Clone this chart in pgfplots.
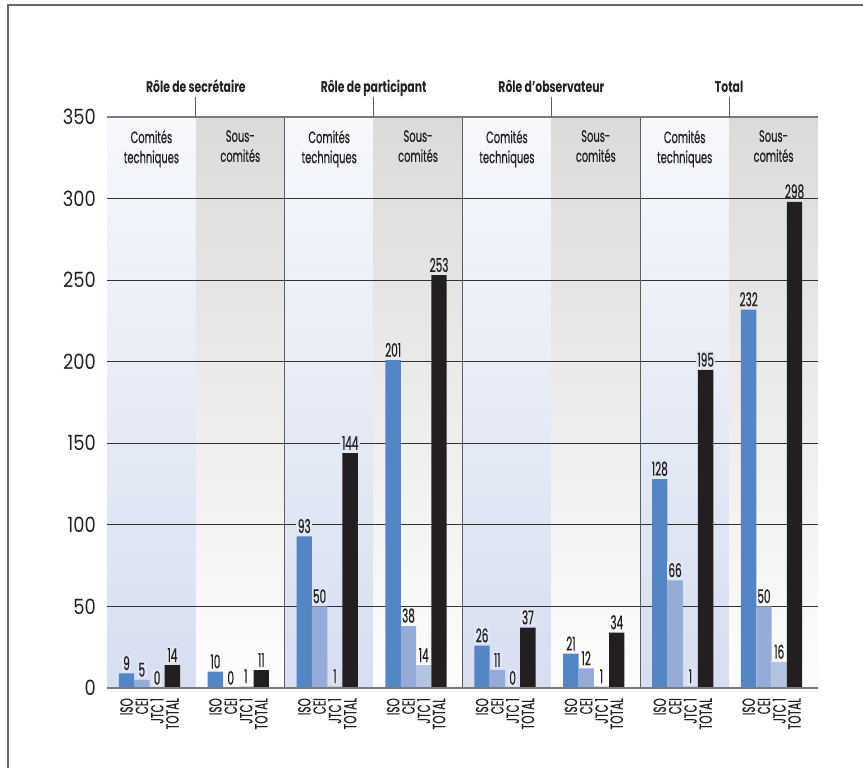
\documentclass[border=0pt]{standalone}
\usepackage{fontspec}
\setmainfont{Poppins}
\newfontfamily\cond{Poppins}[FakeStretch=0.6, FakeBold=0.4]
\newfontfamily\numf{Poppins}[FakeStretch=0.55, FakeBold=0.5]
\newfontfamily\head{Poppins}[FakeStretch=0.7]
\newfontfamily\tickf{Poppins}[FakeStretch=0.85]
\usepackage{pgfplots}
\usepackage{pgfplotstable}
\pgfplotsset{compat=1.18}
\definecolor{iso}{HTML}{5585C5}
\definecolor{cei}{HTML}{95ACD9}
\definecolor{jtc}{HTML}{B3C3E4}
\definecolor{tot}{HTML}{231F20}
\definecolor{txt}{HTML}{231F20}
\definecolor{ctbot}{HTML}{D6DFF0}
\definecolor{cttop}{HTML}{F6F8FC}
\definecolor{sctop}{HTML}{DADBDD}
\definecolor{scbot}{HTML}{FDFDFD}
\definecolor{ctlab}{HTML}{E0E6F4}
\definecolor{gridc}{HTML}{333333}
\definecolor{sepc}{HTML}{5E5E5E}
\definecolor{edgec}{HTML}{7A7A7A}
\definecolor{framec}{HTML}{666666}

\pgfplotstableread{
p iso cei jtc tot
0 9 5 0 14
2 93 50 1 144
4 26 11 0 37
6 128 66 1 195
}\ct
\pgfplotstableread{
p iso cei jtc tot
1 10 0 1 11
3 201 38 14 253
5 21 12 1 34
7 232 50 16 298
}\sc

\tikzset{
  panlab/.style={anchor=north, inner sep=0pt, align=center, text=txt, font=\cond\fontsize{16.5}{20}\selectfont, yshift=-13pt},
  grplab/.style={anchor=base, inner sep=0pt, text=txt, font=\head\bfseries\fontsize{15.5}{17}\selectfont, yshift=24pt},
}

\begin{document}
\begin{tikzpicture}
\path[use as bounding box] (-107pt,-80pt) rectangle (756pt,688pt);
\begin{axis}[
  at={(0,0)}, anchor=south west,
  scale only axis, width=711pt, height=571pt,
  xmin=0, xmax=8, ymin=0, ymax=350,
  clip=false,
  axis line style={draw=none},
  major tick length=0pt,
  ytick={0,50,...,350},
  xtick={0.22,0.392,0.564,0.736, 1.22,1.392,1.564,1.736, 2.22,2.392,2.564,2.736, 3.22,3.392,3.564,3.736, 4.22,4.392,4.564,4.736, 5.22,5.392,5.564,5.736, 6.22,6.392,6.564,6.736, 7.22,7.392,7.564,7.736},
  xticklabels={ISO,CEI,JTC 1,TOTAL,ISO,CEI,JTC 1,TOTAL,ISO,CEI,JTC 1,TOTAL,ISO,CEI,JTC 1,TOTAL,ISO,CEI,JTC 1,TOTAL,ISO,CEI,JTC 1,TOTAL,ISO,CEI,JTC 1,TOTAL,ISO,CEI,JTC 1,TOTAL},
  /pgf/number format/assume math mode=true,
  yticklabel style={font=\tickf\fontsize{21}{21}\selectfont, text=txt, anchor=east, inner sep=0pt, xshift=-11pt},
  xticklabel style={font=\cond\fontsize{17.5}{17.5}\selectfont, text=txt, rotate=90, anchor=east, inner sep=0pt},
  xticklabel shift=10pt,
  every node near coord/.append style={font=\numf\fontsize{19}{19}\selectfont, text=txt, inner sep=1.5pt, yshift=1.5pt},
]
% panel backgrounds
\fill[bottom color=ctbot, top color=cttop] (axis cs:0,0) rectangle (axis cs:1,350);
\fill[bottom color=scbot, top color=sctop] (axis cs:1,0) rectangle (axis cs:2,350);
\fill[bottom color=ctbot, top color=cttop] (axis cs:2,0) rectangle (axis cs:3,350);
\fill[bottom color=scbot, top color=sctop] (axis cs:3,0) rectangle (axis cs:4,350);
\fill[bottom color=ctbot, top color=cttop] (axis cs:4,0) rectangle (axis cs:5,350);
\fill[bottom color=scbot, top color=sctop] (axis cs:5,0) rectangle (axis cs:6,350);
\fill[bottom color=ctbot, top color=cttop] (axis cs:6,0) rectangle (axis cs:7,350);
\fill[bottom color=scbot, top color=sctop] (axis cs:7,0) rectangle (axis cs:8,350);
% grid
\draw[gridc, line width=1pt] (axis cs:0,50) -- (axis cs:8,50);
\draw[gridc, line width=1pt] (axis cs:0,100) -- (axis cs:8,100);
\draw[gridc, line width=1pt] (axis cs:0,150) -- (axis cs:8,150);
\draw[gridc, line width=1pt] (axis cs:0,200) -- (axis cs:8,200);
\draw[gridc, line width=1pt] (axis cs:0,250) -- (axis cs:8,250);
\draw[gridc, line width=1pt] (axis cs:0,300) -- (axis cs:8,300);
\draw[sepc, line width=1.2pt] (axis cs:2,0) -- (axis cs:2,350);
\draw[sepc, line width=1.2pt] (axis cs:4,0) -- (axis cs:4,350);
\draw[sepc, line width=1.2pt] (axis cs:6,0) -- (axis cs:6,350);
\draw[edgec, line width=1.5pt] (axis cs:0,350) -- (axis cs:8,350);
\draw[sepc, line width=1pt] (axis cs:1,350) -- ++(0,20pt);
\draw[sepc, line width=1pt] (axis cs:3,350) -- ++(0,20pt);
\draw[sepc, line width=1pt] (axis cs:5,350) -- ++(0,20pt);
\draw[sepc, line width=1pt] (axis cs:7,350) -- ++(0,20pt);
% bars: comites techniques
\addplot[ybar, bar width=0.173, bar shift=0pt, fill=iso, draw=none, nodes near coords, every node near coord/.append style={fill=ctlab}] table[x expr=\thisrow{p}+0.22, y=iso] {\ct};
\addplot[ybar, bar width=0.173, bar shift=0pt, fill=cei, draw=none, nodes near coords, every node near coord/.append style={fill=ctlab}] table[x expr=\thisrow{p}+0.392, y=cei] {\ct};
\addplot[ybar, bar width=0.173, bar shift=0pt, fill=jtc, draw=none, nodes near coords, every node near coord/.append style={fill=ctlab}] table[x expr=\thisrow{p}+0.564, y=jtc] {\ct};
\addplot[ybar, bar width=0.173, bar shift=0pt, fill=tot, draw=none, nodes near coords, every node near coord/.append style={fill=ctlab}] table[x expr=\thisrow{p}+0.736, y=tot] {\ct};
% bars: sous-comites
\addplot[ybar, bar width=0.173, bar shift=0pt, fill=iso, draw=none, nodes near coords] table[x expr=\thisrow{p}+0.22, y=iso] {\sc};
\addplot[ybar, bar width=0.173, bar shift=0pt, fill=cei, draw=none, nodes near coords] table[x expr=\thisrow{p}+0.392, y=cei] {\sc};
\addplot[ybar, bar width=0.173, bar shift=0pt, fill=jtc, draw=none, nodes near coords] table[x expr=\thisrow{p}+0.564, y=jtc] {\sc};
\addplot[ybar, bar width=0.173, bar shift=0pt, fill=tot, draw=none, nodes near coords] table[x expr=\thisrow{p}+0.736, y=tot] {\sc};
\draw[edgec, line width=1.5pt] (axis cs:0,0) -- (axis cs:8,0);
% panel labels
\node[panlab] at (axis cs:0.5,350) {Comités\\techniques};
\node[panlab] at (axis cs:2.5,350) {Comités\\techniques};
\node[panlab] at (axis cs:4.5,350) {Comités\\techniques};
\node[panlab] at (axis cs:6.5,350) {Comités\\techniques};
\node[panlab] at (axis cs:1.5,350) {Sous-\\comités};
\node[panlab] at (axis cs:3.5,350) {Sous-\\comités};
\node[panlab] at (axis cs:5.5,350) {Sous-\\comités};
\node[panlab] at (axis cs:7.5,350) {Sous-\\comités};
% group labels
\node[grplab] at (axis cs:1,350) {Rôle de secrétaire};
\node[grplab] at (axis cs:3,350) {Rôle de participant};
\node[grplab] at (axis cs:5,350) {Rôle d’observateur};
\node[grplab] at (axis cs:7,350) {Total};
\end{axis}
\draw[framec, line width=1.3pt] (-99pt,-80pt) -- (-99pt,683pt) -- (756pt,683pt);
\end{tikzpicture}
\end{document}
